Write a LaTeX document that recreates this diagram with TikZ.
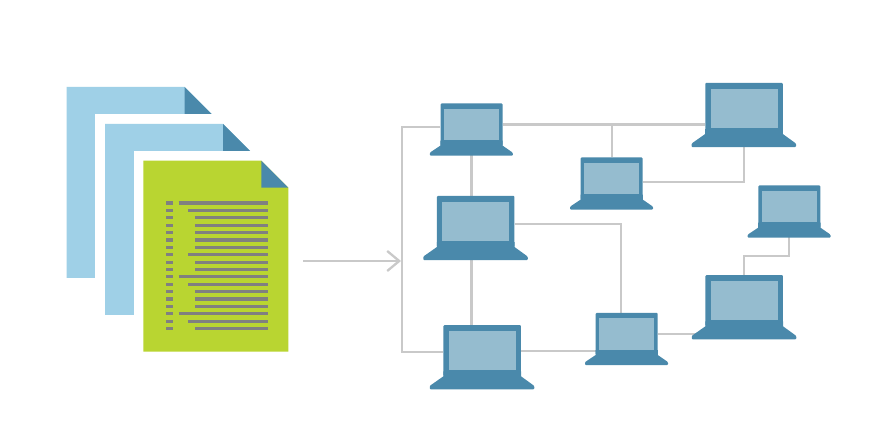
\documentclass[tikz,border=0pt]{standalone}
\usetikzlibrary{arrows.meta,backgrounds}

\definecolor{paperblue}{HTML}{9FD0E7}
\definecolor{foldblue}{HTML}{4A89AB}
\definecolor{screenblue}{HTML}{95BCCF}
\definecolor{papergreen}{HTML}{B9D531}
\definecolor{textgrey}{HTML}{808080}
\definecolor{wiregrey}{HTML}{C9C9C9}

\tikzset{
  lid/.style={rectangle, fill=foldblue, rounded corners=1pt, inner sep=0pt, anchor=north},
  screen/.style={rectangle, fill=screenblue, inner sep=0pt},
  wire/.style={draw=wiregrey, line width=2.3pt},
  textline/.style={draw=textgrey, line width=3.2pt}
}

% #1 colour, #2 left, #3 top
\newcommand{\paperdoc}[3]{
  \fill[white] (#2-9.6,#3-10) rectangle (300,365);
  \fill[#1] (#2,#3) -- ++(118,0) -- ++(27,27) -- ++(0,164) -- ++(-145,0) -- cycle;
  \fill[foldblue] (#2+118,#3) -- ++(0,27) -- ++(27,0) -- cycle;
}
% #1 name, #2 centre x, #3 top
\newcommand{\smalllaptop}[3]{
  \node[lid, minimum width=62pt, minimum height=42pt] (#1) at (#2,#3) {};
  \fill[foldblue] ([yshift=5pt]#1.south west) -- (#1.south west) [rounded corners=1pt] -- ++(-10.5,7) -- ++(0,3) -- ++(83,0) -- ++(0,-3) [sharp corners] -- (#1.south east) -- ([yshift=5pt]#1.south east) -- cycle;
  \node[screen, minimum width=54.5pt, minimum height=31.5pt] (#1screen) at (#1.center) {};
  \coordinate (#1foot) at (#2,#3+50);
}
\newcommand{\largelaptop}[3]{
  \node[lid, minimum width=77.5pt, minimum height=51pt] (#1) at (#2,#3) {};
  \fill[foldblue] ([yshift=5pt]#1.south west) -- (#1.south west) [rounded corners=1pt] -- ++(-13.5,9.5) -- ++(0,3.5) -- ++(104.5,0) -- ++(0,-3.5) [sharp corners] -- (#1.south east) -- ([yshift=5pt]#1.south east) -- cycle;
  \node[screen, minimum width=67pt, minimum height=39pt] (#1screen) at (#1.center) {};
  \coordinate (#1foot) at (#2,#3+62);
}

\begin{document}
\begin{tikzpicture}[x=1pt, y=-1pt]
  \useasboundingbox (0,0) rectangle (886,443);

  % documents
  \paperdoc{paperblue}{66.5}{87}
  \paperdoc{paperblue}{105}{124}
  \paperdoc{papergreen}{143.3}{160.7}
  \foreach \row/\start in {0/178.7, 1/188.3, 2/195.3, 3/195.3, 4/195.3, 5/195.3, 6/195.3, 7/188.3, 8/195.3,
    9/195.3, 10/178.7, 11/188.3, 12/195.3, 13/195.3, 14/195.3, 15/178.7, 16/188.3, 17/195.3}
  {
    \draw[textline] (166,203+7.39*\row) -- (173.3,203+7.39*\row);
    \draw[textline] (\start,203+7.39*\row) -- (268.3,203+7.39*\row);
  }

  % laptops
  \smalllaptop{lapa}{471.5}{103.3}
  \largelaptop{lapb}{475.7}{195.7}
  \largelaptop{lapc}{482.2}{325}
  \smalllaptop{lapd}{611.7}{157.3}
  \largelaptop{lape}{744}{82.7}
  \smalllaptop{lapf}{789.3}{185.3}
  \smalllaptop{lapg}{626.7}{312.7}
  \largelaptop{laph}{744.2}{275}

  \coordinate (trunktop) at (401.7,127.3);
  \coordinate (trunkbot) at (401.7,351.7);
  \coordinate (arrowstart) at (303,261);
  \coordinate (arrowend) at (401,261);
  \coordinate (bendb) at (621,224);
  \coordinate (bendd) at (744,182.3);
  \coordinate (bendf) at (744,256);

  \begin{scope}[on background layer]
    \draw[wire] (lapa.west |- trunktop) -- (trunktop) -- (trunkbot) -- (lapc.west |- trunkbot);
    \draw[wire] (lapa.east) -- (lapa.east -| lape.west);
    \draw[wire] (lapd.north) -- (lapd.north |- lapa.east);
    \draw[wire] (lapafoot) -- (lapafoot |- lapb.north);
    \draw[wire] (lapafoot |- lapbfoot) -- (lapafoot |- lapc.north);
    \draw[wire] (lapb.east |- bendb) -- (bendb) -- (bendb |- lapg.north);
    \draw[wire] (lapd.east |- bendd) -- (bendd) -- (lapefoot);
    \draw[wire] (lapc.east) -- (lapc.east -| lapg.west);
    \draw[wire] (lapg.east) -- (lapg.east -| laph.west);
    \draw[wire] (laph.north -| bendf) -- (bendf) -- (bendf -| lapffoot) -- (lapffoot);
  \end{scope}
  \draw[wire, -{Straight Barb[length=12pt, width=20pt]}] (arrowstart) -- (arrowend);
\end{tikzpicture}
\end{document}
